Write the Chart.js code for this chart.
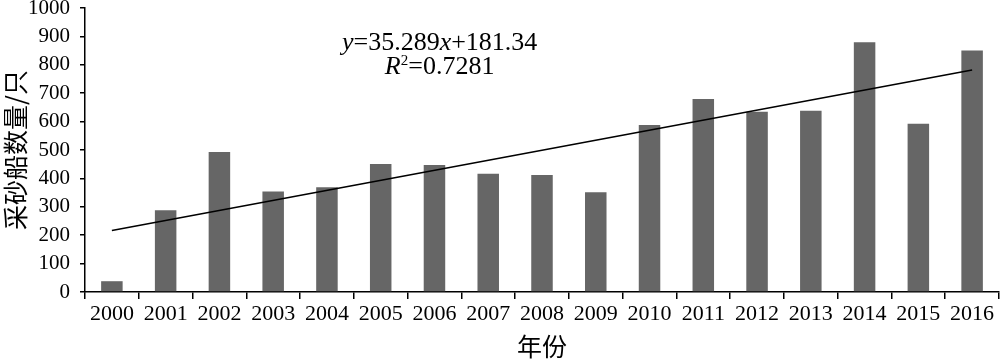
<!DOCTYPE html>
<html>
<head>
<meta charset="utf-8">
<script src="https://cdn.jsdelivr.net/npm/chart.js@4/dist/chart.umd.min.js"></script>
<style>
html,body{margin:0;padding:0;background:#fff;}
#wrap{width:1000px;height:361px;}
</style>
</head>
<body>
<div id="wrap"><canvas id="c" width="1000" height="361"></canvas></div>
<script>
const years = ['2000','2001','2002','2003','2004','2005','2006','2007','2008','2009','2010','2011','2012','2013','2014','2015','2016'];
const boats = [38, 288, 493, 354, 369, 451, 447, 416, 412, 351, 588, 680, 635, 638, 879, 592, 850];
const trendEnds = [{x:'2000', y:216.6}, {x:'2016', y:781.3}];
const yTicks = [0,100,200,300,400,500,600,700,800,900,1000];

const serif = "'Liberation Serif','DejaVu Serif',serif";
const cjk = "'Noto Sans CJK SC','Liberation Serif',serif";

const eqPlugin = {
  id: 'eq',
  afterDraw(chart) {
    const ctx = chart.ctx;
    const a = chart.chartArea;
    const cx = a.left + (a.right - a.left) * 0.388;
    ctx.save();
    ctx.fillStyle = '#000';
    ctx.textBaseline = 'middle';
    const y1 = 43, y2 = 67;
    const it = 'italic 26px ' + serif, rm = '26px ' + serif;
    const parts1 = [['y', it], ['=35.289', rm], ['x', it], ['+181.34', rm]];
    let w = 0;
    parts1.forEach(p => { ctx.font = p[1]; w += ctx.measureText(p[0]).width; });
    let x = cx - w / 2;
    ctx.textAlign = 'left';
    parts1.forEach(p => { ctx.font = p[1]; ctx.fillText(p[0], x, y1); x += ctx.measureText(p[0]).width; });
    const sup = '15px ' + serif;
    const parts2 = [['R', it, 0], ['2', sup, -6], ['=0.7281', rm, 0]];
    w = 0;
    parts2.forEach(p => { ctx.font = p[1]; w += ctx.measureText(p[0]).width; });
    x = cx - w / 2;
    parts2.forEach(p => { ctx.font = p[1]; ctx.fillText(p[0], x, y2 + p[2]); x += ctx.measureText(p[0]).width; });
    ctx.restore();
  }
};

new Chart(document.getElementById('c'), {
  data: {
    labels: years,
    datasets: [
      {
        type: 'line',
        data: trendEnds,
        borderColor: '#000',
        borderWidth: 1.5,
        pointRadius: 0,
        fill: false,
        order: 0
      },
      {
        type: 'bar',
        data: boats,
        backgroundColor: '#666666',
        borderWidth: 0,
        barPercentage: 0.4,
        categoryPercentage: 1.0,
        order: 1
      }
    ]
  },
  options: {
    responsive: false,
    animation: false,
    layout: { padding: { top: 8, right: 1, left: 0, bottom: 0 } },
    plugins: { legend: { display: false }, tooltip: { enabled: false } },
    scales: {
      x: {
        type: 'category',
        offset: true,
        grid: { display: true, drawOnChartArea: false, offset: true, color: '#000', tickLength: 7, lineWidth: 1.5 },
        border: { display: true, color: '#000', width: 1.5 },
        ticks: { color: '#000', font: { family: serif, size: 22 }, maxRotation: 0, autoSkip: false, padding: 2 },
        title: { display: true, text: '年份', color: '#000', font: { family: cjk, size: 25 }, padding: { top: 0, bottom: 0 } },
        afterFit(s) { s.height = 69; s.paddingLeft = 0; s.paddingRight = 0; }
      },
      y: {
        min: 0, max: 1000,
        afterBuildTicks(s) { s.ticks = yTicks.map(v => ({ value: v })); },
        grid: { display: true, drawOnChartArea: false, color: '#000', tickLength: 5, lineWidth: 1.5 },
        border: { display: true, color: '#000', width: 1.5 },
        ticks: { color: '#000', font: { family: serif, size: 21 }, padding: 10, autoSkip: false, callback: v => String(v) },
        title: { display: true, text: '采砂船数量/只', color: '#000', font: { family: cjk, size: 25 }, padding: { top: 0, bottom: 0 } },
        afterFit(s) { s.width = 85; s.paddingTop = 0; s.paddingBottom = 0; }
      }
    }
  },
  plugins: [eqPlugin]
});
</script>
</body>
</html>
